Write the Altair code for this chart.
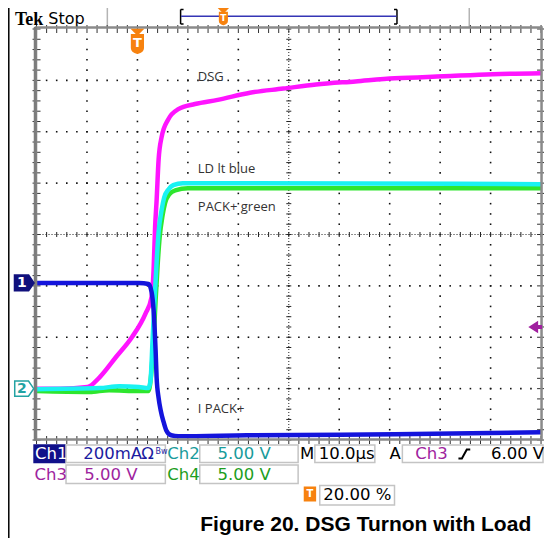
import altair as alt
import pandas as pd

# ---------------- values ----------------
# time in microseconds (10 us/div, trigger at 20 % of record => -20 .. 80 us)
t_dsg = [-20, -15.3, -9.9, -7.5, -4.2, -1.1, 1.6, 2.8, 3.2, 3.5, 3.8, 4.2, 4.8, 6.1,
         8.1, 11.4, 15.9, 22.3, 28.9, 35.4, 43.2, 51.0, 60.7, 70.4, 80]
v_dsg = [0.0, 0.0, 0.15, 1.1, 3.1, 5.0, 7.3, 8.9, 11.5, 15.7, 18.3, 22.3, 24.5, 26.2,
         27.2, 27.7, 28.1, 28.8, 29.2, 29.6, 29.9, 30.2, 30.4, 30.6, 30.7]

t_ld = [-20, -7.5, -3.6, 0.3, 2.2, 2.6, 3.0, 3.4, 3.8, 4.2, 4.8, 5.3, 6.1, 7.1, 9.0, 21.7, 80]
v_ld = [-0.05, 0.05, 0.24, 0.15, 0.05, 0.83, 4.7, 8.6, 12.3, 15.25, 17.4, 18.6, 19.35,
        19.8, 20.0, 20.0, 19.9]

t_pack = [-20, -9.5, -5.6, 0.3, 2.2, 2.8, 3.2, 3.6, 4.0, 4.4, 5.0, 5.5, 6.3, 7.5, 10.0, 31.5, 80]
v_pack = [-0.24, -0.33, -0.15, -0.24, -0.24, 1.8, 4.7, 8.6, 12.0, 14.7, 16.9, 18.1,
          18.9, 19.3, 19.5, 19.5, 19.5]

t_ipack = [-20, 0.3, 2.2, 2.8, 3.2, 3.4, 3.6, 3.8, 4.2, 4.6, 5.2, 5.7, 6.7, 8.1, 21.7, 51, 80]
i_ipack = [0, 0, -4, -35, -105, -172, -261, -367, -448, -495, -542, -573, -593, -597,
           -593, -589, -581]

VOLTS_PER_DIV = 5.0       # Ch2, Ch3, Ch4
MA_PER_DIV = 200.0        # Ch1
CH234_ZERO_DIV = -3.0     # ground marker "2"
CH1_ZERO_DIV = -0.943     # ground marker "1"
TRIG_LEVEL_V = 6.0

labels_in_plot = ["DSG", "LD lt blue", "PACK+ green", "I PACK+"]
caption = "Figure 20. DSG Turnon with Load"

# ---------------- layout helpers ----------------
# Decorations are given in reference-page pixels; the pixel scale squeezes the
# reference width (7..552) into the visible page area (8..544).
REF_L, REF_R = 7.0, 552.0
PAGE_L, PAGE_R = 8.0, 544.0
K = (PAGE_R - PAGE_L) / (REF_R - REF_L)
X0 = PAGE_L + (36 - REF_L) * K           # page x of plot area
W = (549 - 36) * K                        # plot width
Y0, H = 29, 411                           # page y of plot area, plot height
PAD_L = X0 - 8
PAD_R = 536 - PAD_L - W

XD = alt.Scale(domain=[-20, 80], nice=False, zero=False)
YD = alt.Scale(domain=[-4, 4], nice=False, zero=False)
XP = alt.Scale(domain=[REF_L, REF_R], range=[PAGE_L - X0, PAGE_R - X0], nice=False, zero=False)
YP = alt.Scale(domain=[Y0, Y0 + H], range=[0, H], nice=False, zero=False)


def xd(f="t"):
    return alt.X(f"{f}:Q", scale=XD, axis=None)


def yd(f="y"):
    return alt.Y(f"{f}:Q", scale=YD, axis=None)


def xp(f="x"):
    return alt.X(f"{f}:Q", scale=XP, axis=None)


def yp(f="y"):
    return alt.Y(f"{f}:Q", scale=YP, axis=None)


def trace(ts, vals, to_div, color):
    df = pd.DataFrame({"t": ts, "y": [to_div(v) for v in vals]})
    return alt.Chart(df).mark_line(color=color, strokeWidth=4.5, interpolate="monotone",
                                   strokeJoin="round").encode(x=xd(), y=yd())


def volts(v):
    return v / VOLTS_PER_DIV + CH234_ZERO_DIV


def milliamps(i):
    return i / MA_PER_DIV + CH1_ZERO_DIV


layers = []

# ---------------- page decorations ----------------
rules = pd.DataFrame([
    (7.8, 7.8, 8, 545, "#000000", 1.5),
    (108, 108, 8, 27, "#b4b4b4", 1.5),
    (476, 476, 8, 27, "#b4b4b4", 1.5),
    (182.5, 182.5, 9.5, 24, "#000000", 1.5),
    (182.5, 185.5, 9.5, 9.5, "#000000", 1.5),
    (182.5, 185.5, 24, 24, "#000000", 1.5),
    (402.5, 402.5, 9.5, 24, "#000000", 1.5),
    (399.5, 402.5, 9.5, 9.5, "#000000", 1.5),
    (399.5, 402.5, 24, 24, "#000000", 1.5),
    (183, 402, 16.3, 16.3, "#3535b5", 1.5),
], columns=["x", "x2", "y", "y2", "c", "w"])
layers.append(alt.Chart(rules).mark_rule().encode(
    x=xp(), x2=alt.X2("x2"), y=yp(), y2=alt.Y2("y2"),
    color=alt.Color("c:N", scale=None), strokeWidth=alt.StrokeWidth("w:Q", scale=None)))

layers.append(alt.Chart(pd.DataFrame({"x": [14], "y": [24.5], "s": ["Tek"]})).mark_text(
    font="Liberation Serif", fontWeight="bold", fontSize=18, align="left",
    baseline="alphabetic", color="#000").encode(x=xp(), y=yp(), text="s:N"))
layers.append(alt.Chart(pd.DataFrame({"x": [48], "y": [23.5], "s": ["Stop"]})).mark_text(
    font="DejaVu Sans", fontSize=16, align="left", baseline="alphabetic",
    color="#000").encode(x=xp(), y=yp(), text="s:N"))

SHIELD = "M-0.62,-1 L0.62,-1 L0.62,0.45 Q0.62,0.85 0,1 Q-0.62,0.85 -0.62,0.45 Z"
TRI_DOWN = "M-1,-0.5 L1,-0.5 L0,0.5 Z"
ORANGE = "#f7820f"

layers.append(alt.Chart(pd.DataFrame({"x": [226], "y": [18.5]})).mark_point(
    shape=SHIELD, size=130, filled=True, fill=ORANGE, stroke=ORANGE, opacity=1).encode(x=xp(), y=yp()))
layers.append(alt.Chart(pd.DataFrame({"x": [226], "y": [10.5]})).mark_point(
    shape=TRI_DOWN, size=50, filled=True, fill=ORANGE, stroke=ORANGE, opacity=1).encode(x=xp(), y=yp()))
layers.append(alt.Chart(pd.DataFrame({"x": [226], "y": [18], "s": ["T"]})).mark_text(
    font="DejaVu Sans", fontWeight="bold", fontSize=9, color="white", baseline="middle").encode(
    x=xp(), y=yp(), text="s:N"))

# ---------------- graticule ----------------
minor_t = [-20 + 2 * k for k in range(51)]
minor_y = [round(-4 + 0.2 * k, 3) for k in range(41)]
major_t = [-10, 0, 10, 20, 40, 50, 60, 70]
major_y = [-3, -2, -1, 1, 2, 3]
dots = [(t, y) for t in major_t for y in minor_y[1:-1]] + [(t, y) for y in major_y for t in minor_t[1:-1]]
layers.append(alt.Chart(pd.DataFrame(dots, columns=["t", "y"])).mark_square(
    size=2.5, color="#111111", opacity=1).encode(x=xd(), y=yd()))

center = pd.DataFrame({"t": [-20, 30], "t2": [80, 30], "y": [0, -4], "y2": [0, 4]})
layers.append(alt.Chart(center).mark_rule(color="#222222", strokeWidth=1, strokeDash=[1, 2]).encode(
    x=xd(), x2=alt.X2("t2"), y=yd(), y2=alt.Y2("y2")))

ct_h = pd.DataFrame({"t": minor_t, "y": [0] * len(minor_t)})
layers.append(alt.Chart(ct_h).mark_tick(orient="vertical", size=5, thickness=1, color="#222222",
                                        opacity=1).encode(x=xd(), y=yd()))
ct_v = pd.DataFrame({"t": [30] * len(minor_y), "y": minor_y})
layers.append(alt.Chart(ct_v).mark_tick(orient="horizontal", size=5, thickness=1, color="#222222",
                                        opacity=1).encode(x=xd(), y=yd()))

edge_h = pd.DataFrame({"t": minor_t * 2, "y": [4] * len(minor_t) + [-4] * len(minor_t)})
layers.append(alt.Chart(edge_h).mark_tick(orient="vertical", size=8, thickness=1, color="#333333",
                                          opacity=1).encode(x=xd(), y=yd()))
edge_v = pd.DataFrame({"t": [-20] * len(minor_y) + [80] * len(minor_y), "y": minor_y * 2})
layers.append(alt.Chart(edge_v).mark_tick(orient="horizontal", size=8, thickness=1, color="#333333",
                                          opacity=1).encode(x=xd(), y=yd()))

# ---------------- traces ----------------
layers.append(trace(t_dsg, v_dsg, volts, "#ff14ff"))
layers.append(trace(t_pack, v_pack, volts, "#2ee62e"))
layers.append(trace(t_ld, v_ld, volts, "#19f2f2"))
layers.append(trace(t_ipack, i_ipack, milliamps, "#1414dc"))

# ---------------- frame ----------------
frame = pd.DataFrame({"x": [35.5], "x2": [549.5], "y": [27.5], "y2": [439.5]})
layers.append(alt.Chart(frame).mark_rect(fillOpacity=0, stroke="#8a8a8a", strokeWidth=2.5).encode(
    x=xp(), x2=alt.X2("x2"), y=yp(), y2=alt.Y2("y2")))
layers.append(alt.Chart(pd.DataFrame({"x": [34.7], "x2": [34.7], "y": [27], "y2": [440.5]})).mark_rule(
    color="#7c7c7c", strokeWidth=3).encode(x=xp(), x2=alt.X2("x2"), y=yp(), y2=alt.Y2("y2")))

# trigger position marker (t = 0)
layers.append(alt.Chart(pd.DataFrame({"t": [0], "y": [44]})).mark_point(
    shape=SHIELD, size=324, filled=True, fill=ORANGE, stroke=ORANGE, opacity=1).encode(x=xd(), y=yp()))
layers.append(alt.Chart(pd.DataFrame({"t": [0], "y": [32]})).mark_point(
    shape=TRI_DOWN, size=81, filled=True, fill=ORANGE, stroke=ORANGE, opacity=1).encode(x=xd(), y=yp()))
layers.append(alt.Chart(pd.DataFrame({"t": [0], "y": [43], "s": ["T"]})).mark_text(
    font="DejaVu Sans", fontWeight="bold", fontSize=13, color="white", baseline="middle").encode(
    x=xd(), y=yp(), text="s:N"))

# channel ground markers and trigger level arrow
PENT = "M-1,-0.8 L0.45,-0.8 L1,0 L0.45,0.8 L-1,0.8 Z"
layers.append(alt.Chart(pd.DataFrame({"x": [23.5], "y": [CH1_ZERO_DIV]})).mark_point(
    shape=PENT, size=361, filled=True, fill="#10107c", stroke="#10107c", opacity=1).encode(x=xp(), y=yd()))
layers.append(alt.Chart(pd.DataFrame({"x": [21], "y": [CH1_ZERO_DIV], "s": ["1"]})).mark_text(
    font="DejaVu Sans", fontWeight="bold", fontSize=14, color="white", baseline="middle").encode(
    x=xp(), y=yd(), text="s:N"))
layers.append(alt.Chart(pd.DataFrame({"x": [23.5], "y": [CH234_ZERO_DIV]})).mark_point(
    shape=PENT, size=361, filled=True, fill="white", stroke="#22a3a3", strokeWidth=1.5,
    opacity=1).encode(x=xp(), y=yd()))
layers.append(alt.Chart(pd.DataFrame({"x": [21], "y": [CH234_ZERO_DIV], "s": ["2"]})).mark_text(
    font="DejaVu Sans", fontWeight="bold", fontSize=14, color="#22a3a3", baseline="middle").encode(
    x=xp(), y=yd(), text="s:N"))
ARROW = "M-1,0 L0.27,-0.82 L0.27,-0.18 L1,-0.18 L1,0.18 L0.27,0.18 L0.27,0.82 Z"
layers.append(alt.Chart(pd.DataFrame({"x": [543.5], "y": [volts(TRIG_LEVEL_V)]})).mark_point(
    shape=ARROW, size=121, filled=True, fill="#a0209f", stroke="#a0209f", opacity=1).encode(x=xp(), y=yd()))

# ---------------- in-plot annotations ----------------
ann = pd.DataFrame({"x": [200, 200, 200, 200], "y": [81, 173, 210.5, 413], "s": labels_in_plot})
layers.append(alt.Chart(ann).mark_text(font="Open Sans", fontSize=13, align="left",
                                       baseline="alphabetic", color="#333333").encode(
    x=xp(), y=yp(), text="s:N"))

# ---------------- readout panel ----------------
boxes = pd.DataFrame([
    (33.5, 65, 445, 462.4, "#10108a", "#10108a"),
    (66, 167, 445, 462.4, "white", "#c4c4c4"),
    (202, 302, 445, 462.4, "white", "#c4c4c4"),
    (319, 380, 445, 462.4, "white", "#c4c4c4"),
    (408, 551, 445, 462.4, "white", "#c4c4c4"),
    (66, 167, 465, 483.5, "white", "#c4c4c4"),
    (202, 302, 465, 483.5, "white", "#c4c4c4"),
    (324, 400, 485.5, 505, "white", "#c4c4c4"),
], columns=["x", "x2", "y", "y2", "f", "s"])
layers.append(alt.Chart(boxes).mark_rect(strokeWidth=1.5).encode(
    x=xp(), x2=alt.X2("x2"), y=yp(), y2=alt.Y2("y2"),
    fill=alt.Fill("f:N", scale=None), stroke=alt.Stroke("s:N", scale=None)))

NAVY, TEAL, PURP, GRN = "#1c1ca0", "#1a9b9b", "#9e249e", "#1e9e1e"
readout = pd.DataFrame([
    ("Ch1", 34.5, 459, "white"),
    ("200mA", 83.5, 459, NAVY),
    ("\u03a9", 142.5, 459, NAVY),
    ("Ch2", 169, 459, TEAL),
    ("5.00 V", 220, 459, TEAL),
    ("M", 304, 459, "#000000"),
    ("10.0\u00b5s", 323, 459, "#000000"),
    ("A", 395, 459, "#000000"),
    ("Ch3", 421, 459, PURP),
    ("6.00 V", 498, 459, "#000000"),
    ("Ch3", 34, 479.6, PURP),
    ("5.00 V", 84.5, 479.6, PURP),
    ("Ch4", 169, 479.6, GRN),
    ("5.00 V", 220, 479.6, GRN),
    ("20.00 %", 327.5, 499.7, "#000000"),
], columns=["s", "x", "y", "c"])
layers.append(alt.Chart(readout).mark_text(font="DejaVu Sans", fontSize=16.5, align="left",
                                           baseline="alphabetic").encode(
    x=xp(), y=yp(), text="s:N", color=alt.Color("c:N", scale=None)))
layers.append(alt.Chart(pd.DataFrame({"x": [157], "y": [454], "s": ["Bw"]})).mark_text(
    font="DejaVu Sans", fontSize=8, align="left", baseline="alphabetic", color=NAVY).encode(
    x=xp(), y=yp(), text="s:N"))
slope = pd.DataFrame({"x": [465, 468.5, 473.5, 477], "y": [458.5, 458.5, 449.5, 449.5]})
layers.append(alt.Chart(slope).mark_line(color="#000000", strokeWidth=2).encode(x=xp(), y=yp()))
layers.append(alt.Chart(pd.DataFrame({"x": [314], "y": [494]})).mark_point(
    shape="M-0.8,-1 L0.8,-1 L0.8,1 L-0.8,1 Z", size=169, filled=True, fill=ORANGE,
    stroke=ORANGE, opacity=1).encode(x=xp(), y=yp()))
layers.append(alt.Chart(pd.DataFrame({"x": [314], "y": [494], "s": ["T"]})).mark_text(
    font="DejaVu Sans", fontWeight="bold", fontSize=10, color="white", baseline="middle").encode(
    x=xp(), y=yp(), text="s:N"))

# caption
layers.append(alt.Chart(pd.DataFrame({"x": [539], "y": [531], "s": [caption]})).mark_text(
    font="Liberation Sans", fontWeight="bold", fontSize=21, align="right",
    baseline="alphabetic", color="#000000").encode(x=xp(), y=yp(), text="s:N"))

chart = alt.layer(*layers).resolve_scale(x="independent", y="independent").properties(
    width=W, height=H,
    autosize=alt.AutoSizeParams(type="none"),
    padding={"left": PAD_L, "top": 21, "right": PAD_R, "bottom": 98},
    background="white",
).configure_view(stroke=None)

chart.save("out.html", embed_options={"renderer": "svg", "actions": False})
